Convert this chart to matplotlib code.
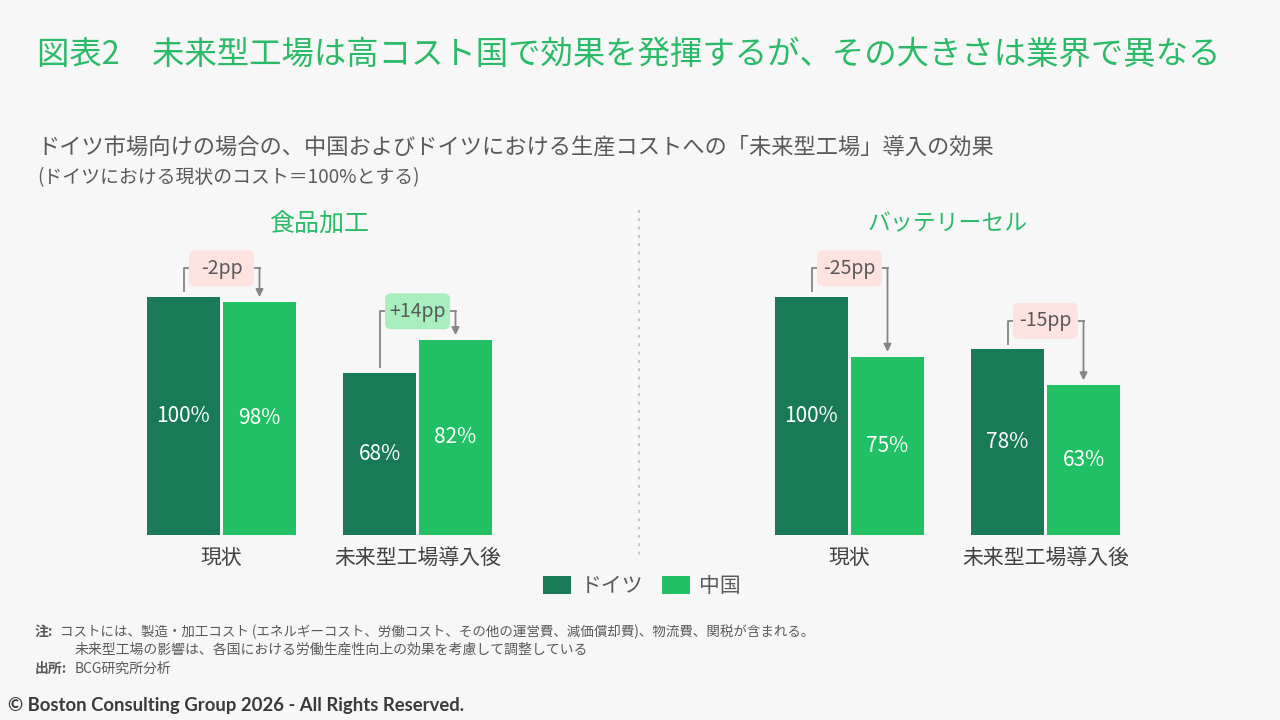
import matplotlib
import matplotlib.pyplot as plt
from matplotlib.patches import FancyBboxPatch
from matplotlib.lines import Line2D

matplotlib.use('Agg')

plt.rcParams['font.family'] = ['Noto Sans CJK JP', 'DejaVu Sans']

# data (ドイツの現状コスト = 100%)
GROUPS = ['現状', '未来型工場導入後']
PANELS = ['食品加工', 'バッテリーセル']
PANEL_SIZE = [18, 16.5]
GERMANY = [[100, 68], [100, 78]]
CHINA = [[98, 82], [75, 63]]
DELTA = [['-2pp', '+14pp'], ['-25pp', '-15pp']]

DARK = '#187a56'
LIGHT = '#22c064'
TITLE_GREEN = '#2bba68'
GREY_TXT = '#595959'
LINE_GREY = '#858585'
BG = '#f7f7f7'

W, H = 1280, 720
PX_UNIT = 196.0     # px per group step
PX_PCT = 2.38       # px per percent
BAR_W = 73 / PX_UNIT
OFF = 38 / PX_UNIT
YMAX = 130

fig = plt.figure(figsize=(12.8, 7.2), dpi=100, facecolor=BG)


def px_axes(left_px, right_px, center_px):
    ax = fig.add_axes([left_px / W, 185 / H, (right_px - left_px) / W, YMAX * PX_PCT / H])
    ax.set_facecolor(BG)
    ax.set_xlim((left_px - center_px) / PX_UNIT, (right_px - center_px) / PX_UNIT)
    ax.set_ylim(0, YMAX)
    for s in ax.spines.values():
        s.set_visible(False)
    ax.set_yticks([])
    return ax


axes = [px_axes(100, 560, 221.5), px_axes(700, 1180, 849.5)]
bars_for_legend = None

for p, ax in enumerate(axes):
    xs = list(range(len(GROUPS)))
    b1 = ax.bar([x - OFF for x in xs], GERMANY[p], BAR_W, color=DARK, label='ドイツ')
    b2 = ax.bar([x + OFF for x in xs], CHINA[p], BAR_W, color=LIGHT, label='中国')
    if bars_for_legend is None:
        bars_for_legend = (b1, b2)
    ax.set_xticks(xs)
    ax.set_xticklabels(GROUPS, fontsize=15, color='#404040')
    ax.tick_params(axis='x', length=0, pad=9)

    for x, de, cn, d in zip(xs, GERMANY[p], CHINA[p], DELTA[p]):
        ax.text(x - OFF, de / 2, f'{de}%', ha='center', va='center', color='white', fontsize=15)
        ax.text(x + OFF, cn / 2, f'{cn}%', ha='center', va='center', color='white', fontsize=15)

        # delta bracket
        lvl = max(de, cn) + 12
        bw = 65 / PX_UNIT
        bh = 36 / PX_PCT
        ax.plot([x - OFF, x - OFF, x - bw / 2], [de + 2, lvl, lvl], color=LINE_GREY, lw=1.3,
                solid_capstyle='butt')
        ax.plot([x + bw / 2, x + OFF], [lvl, lvl], color=LINE_GREY, lw=1.3)
        ax.annotate('', xy=(x + OFF, cn + 2), xytext=(x + OFF, lvl),
                    arrowprops=dict(arrowstyle='-|>', color=LINE_GREY, lw=1.3,
                                    mutation_scale=11, shrinkA=0, shrinkB=0))
        fc = '#a9efbd' if d.startswith('+') else '#fde3df'
        box = FancyBboxPatch((x - bw / 2, lvl - bh / 2), bw, bh,
                             boxstyle='round,pad=0,rounding_size=%f' % (6 / PX_UNIT),
                             mutation_aspect=PX_UNIT / PX_PCT, fc=fc, ec='none', zorder=3)
        ax.add_patch(box)
        ax.text(x, lvl, d, ha='center', va='center', fontsize=14, color=GREY_TXT, zorder=4)

    ax.text(0.5, YMAX + 0.6, PANELS[p], ha='center', va='center', fontsize=PANEL_SIZE[p],
            color=TITLE_GREEN, clip_on=False)

# divider
fig.add_artist(Line2D([639 / W, 639 / W], [1 - 210 / H, 1 - 558 / H], transform=fig.transFigure,
                      color='#c4c4c4', lw=1.5, linestyle=(0, (1.3, 2.7))))

# titles
fig.text(37 / W, 1 - 55 / H, '図表2\u3000未来型工場は高コスト国で効果を発揮するが、その大きさは業界で異なる',
         fontsize=23.3, color=TITLE_GREEN, va='center')
fig.text(37 / W, 1 - 147 / H, 'ドイツ市場向けの場合の、中国およびドイツにおける生産コストへの「未来型工場」導入の効果',
         fontsize=16, color=GREY_TXT, va='center')
fig.text(37 / W, 1 - 178 / H, '(ドイツにおける現状のコスト＝100%とする)',
         fontsize=13.6, color=GREY_TXT, va='center')

# legend
fig.legend(bars_for_legend, ['ドイツ', '中国'], loc='center', bbox_to_anchor=(642 / W, 1 - 586 / H),
           ncol=2, frameon=False, fontsize=15, handlelength=1.35, handleheight=1.0,
           handletextpad=0.45, columnspacing=0.9, labelcolor=GREY_TXT)

# notes
fig.text(35 / W, 1 - 632 / H, '注:', fontsize=10, color=GREY_TXT, va='center', fontweight='bold')
fig.text(60 / W, 1 - 632 / H,
         'コストには、製造・加工コスト (エネルギーコスト、労働コスト、その他の運営費、減価償却費)、物流費、関税が含まれる。',
         fontsize=9.7, color=GREY_TXT, va='center')
fig.text(75 / W, 1 - 650 / H, '未来型工場の影響は、各国における労働生産性向上の効果を考慮して調整している',
         fontsize=10, color=GREY_TXT, va='center')
fig.text(35 / W, 1 - 669 / H, '出所:', fontsize=10, color=GREY_TXT, va='center', fontweight='bold')
fig.text(75 / W, 1 - 669 / H, 'BCG研究所分析', fontsize=10, color=GREY_TXT, va='center')
fig.text(8 / W, 1 - 706 / H, '© Boston Consulting Group 2026 - All Rights Reserved.',
         fontsize=13.3, color='#3a3a3a', va='center', fontweight='bold', family='Lato')

fig.savefig('out.png', dpi=100, facecolor=BG)
